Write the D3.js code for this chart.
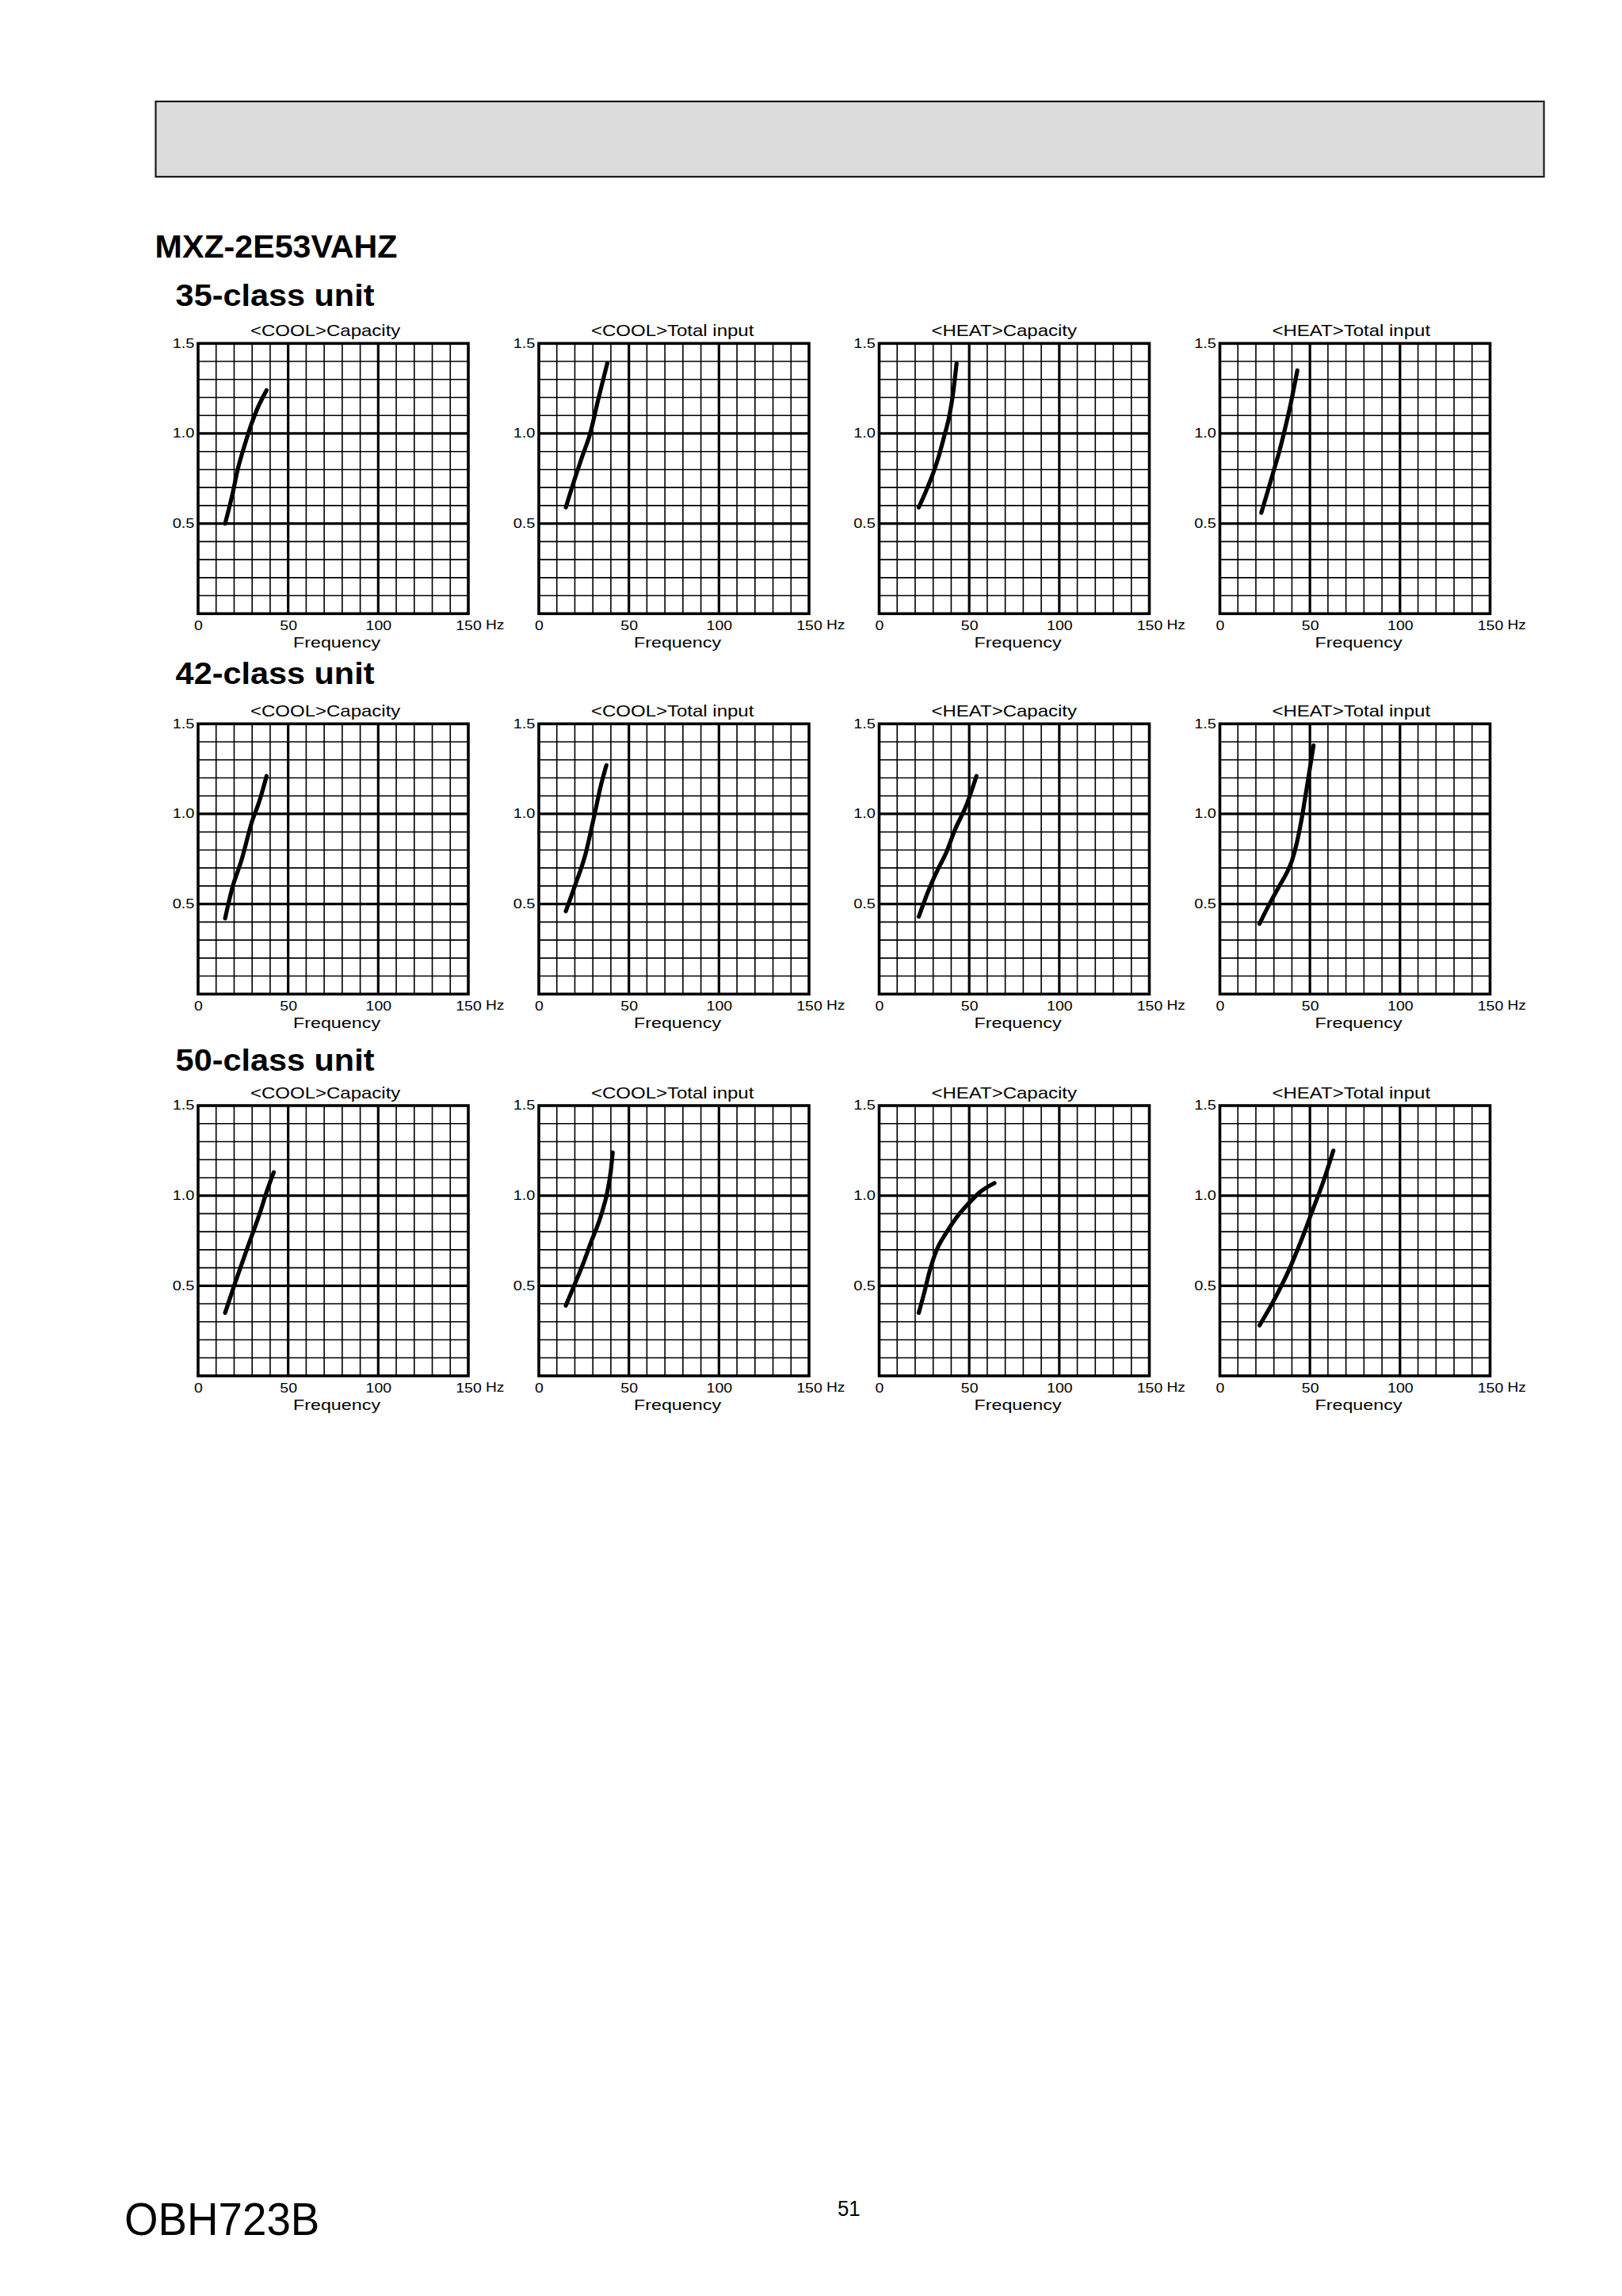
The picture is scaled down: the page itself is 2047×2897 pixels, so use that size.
<!DOCTYPE html>
<html>
<head>
<meta charset="utf-8">
<script src="https://cdn.jsdelivr.net/npm/d3@7"></script>
<style>
  html, body { margin: 0; padding: 0; background: #fff; }
  svg { display: block; font-family: "Liberation Sans", Arial, Helvetica, sans-serif; }
</style>
</head>
<body>
<script>
// ---------------- DATA ----------------
const modelName = "MXZ-2E53VAHZ";
const unitClasses = ["35-class unit", "42-class unit", "50-class unit"];
const panelTitles = ["<COOL>Capacity", "<COOL>Total input", "<HEAT>Capacity", "<HEAT>Total input"];
const xTicks = [0, 50, 100, 150];
const yTicks = [0.5, 1.0, 1.5];
const xLabel = "Frequency";
const xUnit = "Hz";
const docCode = "OBH723B";
const pageNumber = "51";

// [frequency Hz, ratio]
const u35CoolCapacity = [[15,0.50],[19,0.66],[22,0.80],[26,0.94],[29.5,1.05],[33,1.14],[38,1.24]];
const u35CoolInput    = [[15,0.59],[20,0.75],[24,0.87],[28.5,1.00],[33,1.19],[38,1.39]];
const u35HeatCapacity = [[22,0.59],[26,0.68],[30,0.78],[33,0.87],[36,0.98],[39,1.10],[41,1.22],[43,1.39]];
const u35HeatInput    = [[23,0.56],[26,0.66],[29.5,0.78],[33,0.90],[36,1.02],[39,1.15],[43,1.35]];

const u42CoolCapacity = [[15,0.42],[19,0.59],[24,0.74],[30,0.96],[34,1.07],[38,1.21]];
const u42CoolInput    = [[15,0.46],[20,0.60],[26,0.78],[31,1.00],[34.5,1.16],[37.5,1.27]];
const u42HeatCapacity = [[22,0.43],[28,0.59],[33,0.70],[37,0.78],[42,0.91],[48.5,1.05],[54,1.21]];
const u42HeatInput    = [[22,0.39],[27,0.49],[33,0.60],[37,0.67],[40,0.74],[42.5,0.83],[45,0.95],[48,1.13],[52,1.38]];

const u50CoolCapacity = [[15,0.35],[20,0.50],[27,0.70],[34.5,0.91],[38,1.02],[42,1.13]];
const u50CoolInput    = [[15,0.39],[20,0.51],[24.5,0.62],[28.5,0.73],[34.5,0.89],[38,1.02],[40,1.14],[41,1.24]];
const u50HeatCapacity = [[22,0.35],[25,0.46],[28,0.58],[32,0.70],[37,0.79],[43,0.88],[49,0.95],[56,1.02],[64,1.07]];
const u50HeatInput    = [[22,0.28],[29.5,0.41],[38,0.58],[45.5,0.76],[51.5,0.92],[57.5,1.08],[63,1.25]];

const curves = [
  [u35CoolCapacity, u35CoolInput, u35HeatCapacity, u35HeatInput],
  [u42CoolCapacity, u42CoolInput, u42HeatCapacity, u42HeatInput],
  [u50CoolCapacity, u50CoolInput, u50HeatCapacity, u50HeatInput]
];

// ---------------- LAYOUT ----------------
const W = 2047, H = 2897;
const panelLefts = [250, 680, 1109.5, 1539.5];
const rowTops = [433.3, 913.3, 1395];
const headingBaselines = [385.6, 863.3, 1351];
const PS = 341; // panel size

const svg = d3.select("body").append("svg")
  .attr("width", W).attr("height", H)
  .attr("viewBox", `0 0 ${W} ${H}`);

svg.append("rect").attr("width", W).attr("height", H).attr("fill", "#fff");

function stretchedText(parent, x, y, str, size, sx, opts = {}) {
  return parent.append("text")
    .attr("transform", `translate(${x},${y}) scale(${sx},1)`)
    .attr("font-size", size)
    .attr("font-weight", opts.weight || "normal")
    .attr("text-anchor", opts.anchor || "start")
    .attr("fill", "#000")
    .text(str);
}

// header box
svg.append("rect")
  .attr("x", 196.5).attr("y", 128)
  .attr("width", 1948.5 - 196.5).attr("height", 223 - 128)
  .attr("fill", "#dcdcdc").attr("stroke", "#1a1a1a").attr("stroke-width", 2.2);

// model title
stretchedText(svg, 195.6, 325, modelName, 40, 1.03, { weight: "bold" });

// footer
stretchedText(svg, 157, 2820, docCode, 57, 0.96);
stretchedText(svg, 1057, 2796, pageNumber, 28, 0.92);

const line = (x, y) => d3.line()
  .x(d => x(d[0]))
  .y(d => y(d[1]))
  .curve(d3.curveMonotoneX);

unitClasses.forEach((uc, r) => {
  stretchedText(svg, 221.6, headingBaselines[r], uc, 38, 1.09, { weight: "bold" });

  panelTitles.forEach((pt, c) => {
    const left = panelLefts[c], top = rowTops[r];
    const x = d3.scaleLinear().domain([0, 150]).range([left, left + PS]);
    const y = d3.scaleLinear().domain([0, 1.5]).range([top + PS, top]);
    const g = svg.append("g");

    // title
    stretchedText(g, left + 66, top - 9.5, pt, 20, 1.2);

    // grid: thin lines
    const xGrid = d3.range(0, 151, 10);
    const yGrid = d3.range(0, 16, 1).map(v => v / 10);
    g.append("g").selectAll("line").data(xGrid.filter(v => v % 50 !== 0)).join("line")
      .attr("x1", d => x(d)).attr("x2", d => x(d))
      .attr("y1", y(0)).attr("y2", y(1.5))
      .attr("stroke", "#000").attr("stroke-width", 1.6);
    g.append("g").selectAll("line").data(yGrid.filter(v => Math.round(v * 10) % 5 !== 0)).join("line")
      .attr("y1", d => y(d)).attr("y2", d => y(d))
      .attr("x1", x(0)).attr("x2", x(150))
      .attr("stroke", "#000").attr("stroke-width", 1.6);
    // thick lines
    g.append("g").selectAll("line").data([50, 100]).join("line")
      .attr("x1", d => x(d)).attr("x2", d => x(d))
      .attr("y1", y(0)).attr("y2", y(1.5))
      .attr("stroke", "#000").attr("stroke-width", 3.2);
    g.append("g").selectAll("line").data([0.5, 1.0]).join("line")
      .attr("y1", d => y(d)).attr("y2", d => y(d))
      .attr("x1", x(0)).attr("x2", x(150))
      .attr("stroke", "#000").attr("stroke-width", 3.2);
    // border
    g.append("rect")
      .attr("x", x(0)).attr("y", y(1.5))
      .attr("width", x(150) - x(0)).attr("height", y(0) - y(1.5))
      .attr("fill", "none").attr("stroke", "#000").attr("stroke-width", 3.6);

    // x axis labels
    const xAxis = d3.axisBottom(x).tickValues(xTicks).tickSize(0).tickPadding(0).tickFormat(d3.format("d"));
    const xa = g.append("g").attr("transform", `translate(0,${y(0)})`).call(xAxis);
    xa.select(".domain").remove();
    xa.attr("font-size", null).attr("font-family", null);
    xa.selectAll("text")
      .attr("y", null).attr("dy", null)
      .attr("font-size", 16.5)
      .attr("fill", "#000")
      .attr("transform", "translate(0,21) scale(1.18,1)");

    // y axis labels
    const yAxis = d3.axisLeft(y).tickValues(yTicks).tickSize(0).tickPadding(0).tickFormat(d3.format(".1f"));
    const ya = g.append("g").attr("transform", `translate(${x(0)},0)`).call(yAxis);
    ya.select(".domain").remove();
    ya.attr("font-size", null).attr("font-family", null);
    ya.selectAll("text")
      .attr("x", null).attr("dy", "0.36em")
      .attr("font-size", 16)
      .attr("fill", "#000")
      .attr("text-anchor", "end")
      .attr("transform", "translate(-4.5,-1) scale(1.25,1)");

    // Hz
    stretchedText(g, x(150) + 22, y(0) + 19.5, xUnit, 16, 1.2);
    // Frequency
    stretchedText(g, (x(0) + x(150)) / 2 + 4.5, y(0) + 42.5, xLabel, 18.5, 1.26, { anchor: "middle" });

    // curve
    g.append("path")
      .datum(curves[r][c])
      .attr("d", line(x, y))
      .attr("fill", "none")
      .attr("stroke", "#000")
      .attr("stroke-width", 5.2)
      .attr("stroke-linecap", "round")
      .attr("stroke-linejoin", "round");
  });
});
</script>
</body>
</html>
